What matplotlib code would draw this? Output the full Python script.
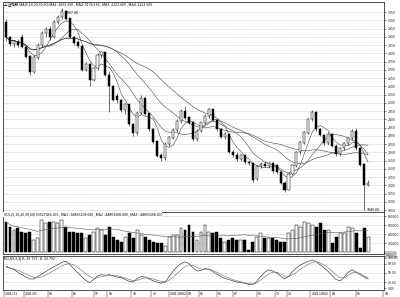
import matplotlib
matplotlib.use("Agg")
import matplotlib.pyplot as plt
import numpy as np
import pandas as pd

plt.rcParams["font.family"] = ["Noto Sans CJK SC", "DejaVu Sans"]

# weekly candles (open, high, low, close)
OPEN = [2989, 2895, 2858, 2870, 2900, 2838, 2780, 2690, 2775, 2850,
        2925, 2945, 2900, 2990, 3020, 3055, 3010, 2898, 2865, 2845,
        2700, 2735, 2640, 2710, 2790, 2805, 2670, 2600, 2540, 2515,
        2455, 2490, 2370, 2315, 2440, 2530, 2435, 2340, 2265, 2180,
        2165, 2250, 2290, 2335, 2390, 2450, 2410, 2380, 2280, 2330,
        2380, 2420, 2460, 2395, 2340, 2295, 2310, 2200, 2185, 2160,
        2180, 2140, 2135, 2040, 2115, 2130, 2120, 2135, 2120, 2080,
        2015, 1975, 2070, 2120, 2200, 2260, 2320, 2400, 2445, 2340,
        2305, 2255, 2310, 2240, 2190, 2225, 2255, 2285, 2330, 2225,
        2125, 2000]
HIGH = [3010, 2905, 2880, 2885, 2915, 2845, 2790, 2790, 2860, 2935,
        2960, 2965, 3000, 3030, 3067.46, 3062, 3015, 2905, 2880, 2850,
        2745, 2740, 2720, 2800, 2815, 2810, 2690, 2610, 2560, 2520,
        2500, 2495, 2380, 2450, 2545, 2535, 2440, 2350, 2270, 2195,
        2260, 2300, 2345, 2400, 2460, 2480, 2420, 2390, 2340, 2385,
        2430, 2470, 2465, 2400, 2345, 2320, 2315, 2215, 2200, 2190,
        2185, 2150, 2140, 2120, 2140, 2145, 2140, 2140, 2130, 2090,
        2025, 2080, 2130, 2210, 2270, 2330, 2410, 2456, 2450, 2350,
        2310, 2320, 2315, 2250, 2235, 2265, 2290, 2340, 2350, 2230,
        2135, 2030]
LOW = [2875, 2845, 2840, 2838, 2830, 2770, 2670, 2680, 2765, 2840,
       2900, 2880, 2895, 2975, 3010, 3000, 2890, 2850, 2835, 2690,
       2690, 2600, 2630, 2700, 2770, 2660, 2444, 2510, 2500, 2445,
       2430, 2360, 2300, 2305, 2430, 2425, 2330, 2255, 2170, 2150,
       2155, 2240, 2280, 2325, 2380, 2400, 2370, 2270, 2270, 2320,
       2370, 2410, 2390, 2330, 2285, 2280, 2195, 2170, 2150, 2150,
       2130, 2120, 2020, 2030, 2105, 2110, 2105, 2075, 2070, 2010,
       1960, 1970, 2060, 2110, 2190, 2250, 2310, 2390, 2330, 2300,
       2245, 2245, 2230, 2180, 2180, 2215, 2245, 2275, 2215, 2115,
       1849, 1995]
CLOSE = [2898, 2860, 2872, 2850, 2840, 2780, 2690, 2775, 2850, 2925,
         2945, 2900, 2990, 3020, 3055, 3010, 2898, 2865, 2845, 2700,
         2735, 2640, 2710, 2790, 2805, 2670, 2600, 2520, 2515, 2455,
         2490, 2370, 2315, 2440, 2530, 2435, 2340, 2265, 2180, 2165,
         2250, 2290, 2335, 2390, 2450, 2410, 2380, 2280, 2330, 2380,
         2420, 2460, 2395, 2340, 2295, 2310, 2200, 2185, 2160, 2180,
         2140, 2135, 2035, 2115, 2130, 2120, 2135, 2085, 2080, 2015,
         1975, 2070, 2120, 2200, 2260, 2320, 2400, 2445, 2340, 2305,
         2255, 2310, 2240, 2190, 2225, 2255, 2285, 2330, 2225, 2125,
         2000, 2015]
VOLUME = [666, 555, 490, 533, 444, 420, 444, 266, 311, 710,
          644, 666, 666, 644, 710, 555, 444, 444, 420, 420,
          311, 377, 444, 533, 490, 377, 555, 333, 266, 222,
          333, 420, 311, 490, 377, 333, 266, 222, 200, 200,
          133, 333, 377, 377, 533, 490, 600, 444, 266, 444,
          600, 444, 420, 444, 311, 222, 266, 311, 266, 266,
          266, 45, 222, 333, 420, 311, 311, 311, 266, 222,
          222, 420, 490, 600, 555, 666, 644, 600, 555, 644,
          490, 490, 200, 333, 420, 420, 555, 533, 420, 90,
          533, 333]
K_LINE = [72, 66, 60, 52, 44, 36, 30, 30, 38, 46,
          54, 62, 70, 76, 84, 88, 78, 64, 50, 38,
          26, 18, 28, 40, 44, 42, 44, 40, 36, 34,
          28, 22, 20, 32, 38, 36, 30, 24, 20, 16,
          20, 38, 56, 70, 80, 86, 80, 66, 56, 58,
          64, 62, 54, 46, 38, 32, 28, 24, 20, 18,
          16, 12, 12, 22, 38, 52, 60, 56, 50, 40,
          30, 38, 54, 66, 76, 82, 88, 92, 86, 76,
          66, 54, 40, 28, 24, 36, 52, 60, 52, 44,
          36, 29.737]
D_LINE = [68, 66, 63, 58, 52, 46, 40, 35, 34, 37,
          43, 50, 58, 65, 72, 78, 80, 76, 68, 58,
          48, 38, 32, 34, 38, 40, 42, 42, 40, 37,
          33, 28, 24, 26, 30, 34, 33, 30, 26, 22,
          20, 26, 36, 48, 60, 70, 76, 74, 68, 62,
          62, 62, 58, 52, 45, 38, 33, 28, 24, 21,
          18, 15, 14, 17, 26, 36, 46, 52, 52, 47,
          40, 38, 44, 52, 62, 70, 78, 84, 86, 82,
          75, 66, 55, 43, 34, 34, 42, 50, 52, 48,
          40, 33.792]
MA_PERIODS = [5, 10, 20, 30]
DATE_LABELS = ["2001/11", "2001/01", "03", "05", "07", "08", "10", "12",
               "2001/2002", "03", "05", "06", "07", "09", "11", "12",
               "2001/2002", "04", "06", "08"]
DATE_POS = [-0.5, 4.5, 10.5, 16.5, 22, 25.5, 31.5, 36.5, 41, 45.5,
            48.5, 53, 57, 63, 67.5, 70.5, 76.5, 81.5, 88, 94.8]
PRICE_TICKS = list(range(1850, 3051, 50))
VOL_TICKS = [200, 400, 600, 800]
KDJ_TICKS = [0, 20, 50, 80, 100]

TITLE = ("上证指数 MA(5,10,20,30,60) MA1: 2063.330 , MA2: 3174.166 , "
         "MA3: 2221.609 , MA4: 2221.909")
VOL_TITLE = ("VOL(5,10,20,30,60) 53527466.000 , MA1 : 44863208.000 , "
             "MA2 : 44803208.000 , MA3 : 44803208.000")
KDJ_TITLE = "KDJ(9,3,3) K: 29.737 , D: 33.792"

W, H = 400, 297
fig = plt.figure(figsize=(W / 100, H / 100), dpi=100)


def box(x0, y0, x1, y1):
    return [x0 / W, 1 - y1 / H, (x1 - x0) / W, (y1 - y0) / H]


ax = fig.add_axes(box(3, 2, 384, 212))
axv = fig.add_axes(box(3, 212, 384, 254))
axk = fig.add_axes(box(3, 256, 384, 290))

n = len(CLOSE)
x = np.arange(n)
o = np.array(OPEN, float)
c = np.array(CLOSE, float)
up = c >= o
XL = (-0.75, 95)

for a in (ax, axv, axk):
    a.set_xlim(*XL)
    a.set_facecolor("white")
    for s in a.spines.values():
        s.set_linewidth(0.6)
        s.set_color("#333333")
    a.yaxis.tick_right()
    a.tick_params(axis="y", labelsize=2.6, length=1.5, width=0.4, pad=1,
                  colors="#222222")
    a.set_xticks([])

# main candles
ax.vlines(x, LOW, HIGH, color="black", linewidth=0.4, zorder=3)
ax.bar(x, np.abs(c - o) + 2, bottom=np.minimum(o, c) - 1, width=0.52,
       color=np.where(up, "white", "black"), edgecolor="black",
       linewidth=0.35, zorder=4)
closes = pd.Series(c)
for p in MA_PERIODS:
    ax.plot(x, closes.rolling(p, min_periods=1).mean(), color="#444444",
            linewidth=0.4, zorder=2)
ax.set_ylim(1838, 3111)
ax.set_yticks(PRICE_TICKS)
ax.set_yticklabels([str(t) for t in PRICE_TICKS])
for t in PRICE_TICKS:
    ax.axhline(t, color="#c4c4c4", linewidth=0.4, linestyle=(0, (2, 1)), zorder=0)
ax.text(0.002, 0.997, TITLE, transform=ax.transAxes, fontsize=2.6,
        va="top", ha="left", zorder=6)
imax = int(np.argmax(HIGH))
imin = int(np.argmin(LOW))
ax.annotate(f"{HIGH[imax]:.2f}", xy=(imax, HIGH[imax]), xytext=(imax + 1, HIGH[imax] - 25),
            fontsize=2.6, va="center", ha="left",
            arrowprops=dict(arrowstyle="-", linewidth=0.3, color="black"))
ax.annotate(f"{LOW[imin]:.2f}", xy=(imin, LOW[imin]), xytext=(imin + 0.7, LOW[imin]),
            fontsize=2.6, va="center", ha="left",
            arrowprops=dict(arrowstyle="-", linewidth=0.3, color="black"))

# volume
axv.bar(x, VOLUME, width=0.72, color=np.where(up, "white", "black"),
        edgecolor="black", linewidth=0.35, zorder=3)
axv.plot(x, pd.Series(VOLUME).rolling(20, min_periods=1).mean(),
         color="#555555", linewidth=0.4, zorder=4)
axv.set_ylim(-44, 889)
axv.set_yticks(VOL_TICKS)
axv.set_yticklabels([f"{t}000" for t in VOL_TICKS])
for t in VOL_TICKS:
    axv.axhline(t, color="#c4c4c4", linewidth=0.4, linestyle=(0, (2, 1)), zorder=0)
axv.text(0.002, 0.99, VOL_TITLE, transform=axv.transAxes, fontsize=2.6,
         va="top", ha="left", zorder=6,
         bbox=dict(facecolor="white", edgecolor="none", pad=0.2))
axv.text(1.005, -0.02, "X1000", transform=axv.transAxes, fontsize=2.6,
         va="center", ha="left",
         bbox=dict(facecolor="white", edgecolor="black", linewidth=0.3, pad=0.4))

# KDJ
axk.plot(x, K_LINE, color="#333333", linewidth=0.45)
axk.plot(x, D_LINE, color="#777777", linewidth=0.45)
axk.set_ylim(-6, 105)
axk.set_yticks(KDJ_TICKS)
axk.set_yticklabels([f"{t}.00" for t in KDJ_TICKS])
for t in KDJ_TICKS[1:-1]:
    axk.axhline(t, color="#c4c4c4", linewidth=0.4, linestyle=(0, (2, 1)), zorder=0)
axk.text(0.002, 0.99, KDJ_TITLE, transform=axk.transAxes, fontsize=2.6,
         va="top", ha="left")

# date strip
for pos, lab in zip(DATE_POS, DATE_LABELS):
    axk.text(pos + 0.3, -0.05, lab, transform=axk.get_xaxis_transform(),
             fontsize=2.6, va="top", ha="left", clip_on=False)
    axk.plot([pos, pos], [-0.02, -0.2], transform=axk.get_xaxis_transform(),
             color="black", linewidth=0.3, clip_on=False)

fig.savefig("out.png", dpi=100, facecolor="white")
